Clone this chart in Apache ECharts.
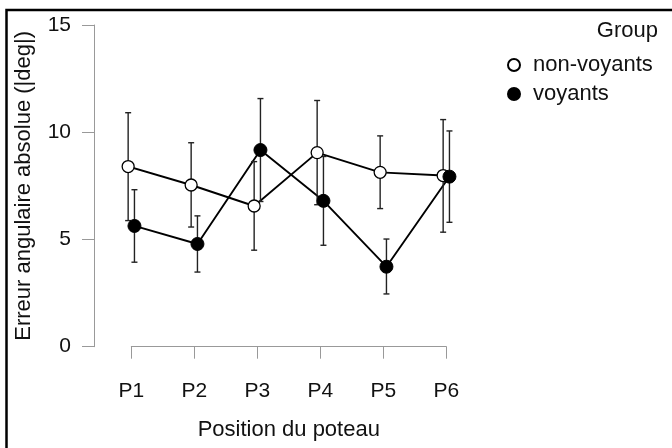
<!DOCTYPE html>
<html>
<head>
<meta charset="utf-8">
<script src="https://cdn.jsdelivr.net/npm/echarts@6/dist/echarts.min.js"></script>
<style>
html,body{margin:0;padding:0;background:#fff;}
#chart{width:672px;height:448px;}
</style>
</head>
<body>
<div id="chart"></div>
<script>
// ---- data ----
const categories = ['P1', 'P2', 'P3', 'P4', 'P5', 'P6'];
const groupTitle = 'Group';
const seriesNames = ['non-voyants', 'voyants'];
const nvMean = [8.40, 7.54, 6.56, 9.05, 8.13, 7.98];
const nvLow  = [5.88, 5.58, 4.50, 6.62, 6.44, 5.34];
const nvHigh = [10.91, 9.51, 8.63, 11.48, 9.83, 10.59];
const vMean  = [5.63, 4.79, 9.17, 6.80, 3.73, 7.93];
const vLow   = [3.94, 3.48, 6.77, 4.73, 2.46, 5.80];
const vHigh  = [7.32, 6.10, 11.57, 8.87, 5.02, 10.06];
const yTicks = [0, 5, 10, 15];
const xTitle = 'Position du poteau';
const yTitle = 'Erreur angulaire absolue (|deg|)';

// ---- build ----
const FONT = "'Liberation Sans', Arial, sans-serif";
const DODGE = 0.05;
const pts = (mean, off) => mean.map((m, i) => [i + 1 + off, m]);
const bars = (lo, hi, off) => lo.map((l, i) => [i + 1 + off, l, hi[i]]);

function errRender(params, api) {
  const x = api.value(0);
  const pLo = api.coord([x, api.value(1)]);
  const pHi = api.coord([x, api.value(2)]);
  const c = 3;
  const st = { stroke: '#222', lineWidth: 1.4 };
  return {
    type: 'group',
    children: [
      { type: 'line', shape: { x1: pLo[0], y1: pLo[1], x2: pHi[0], y2: pHi[1] }, style: st },
      { type: 'line', shape: { x1: pLo[0] - c, y1: pLo[1], x2: pLo[0] + c, y2: pLo[1] }, style: st },
      { type: 'line', shape: { x1: pHi[0] - c, y1: pHi[1], x2: pHi[0] + c, y2: pHi[1] }, style: st }
    ]
  };
}

const chart = echarts.init(document.getElementById('chart'));
chart.setOption({
  animation: false,
  backgroundColor: '#fff',
  textStyle: { fontFamily: FONT },
  title: {
    text: groupTitle, right: 9, top: 15,
    textStyle: { fontFamily: FONT, fontSize: 22, fontWeight: 'normal', color: '#111' }
  },
  legend: {
    data: seriesNames.map(n => ({ name: n, icon: 'circle' })),
    orient: 'vertical', left: 502, top: 49,
    itemWidth: 12, itemHeight: 12, itemGap: 7,
    textStyle: { fontFamily: FONT, fontSize: 22, color: '#111', lineHeight: 22, padding: [0, 0, 0, 8] }
  },
  grid: { left: 131.3, right: 225.7, top: 25, bottom: 101.3 },
  xAxis: {
    type: 'value', min: 1, max: categories.length, interval: 1,
    position: 'bottom', offset: 15.6,
    name: xTitle, nameLocation: 'middle', nameGap: 57,
    nameTextStyle: { fontFamily: FONT, fontSize: 22, color: '#111' },
    axisLine: { show: true, lineStyle: { color: '#999', width: 1 } },
    axisTick: { show: true, length: 12, lineStyle: { color: '#999', width: 1 } },
    axisLabel: { margin: 18, fontSize: 21, color: '#111', formatter: v => categories[Math.round(v) - 1] || '' },
    splitLine: { show: false }
  },
  yAxis: {
    type: 'value', min: yTicks[0], max: yTicks[yTicks.length - 1], interval: yTicks[1] - yTicks[0],
    position: 'left', offset: 37.3,
    name: yTitle, nameLocation: 'middle', nameGap: 59,
    nameTextStyle: { fontFamily: FONT, fontSize: 22, color: '#111' },
    axisLine: { show: true, lineStyle: { color: '#999', width: 1 } },
    axisTick: { show: true, length: 12, lineStyle: { color: '#999', width: 1 } },
    axisLabel: { margin: 23, fontSize: 21, color: '#111' },
    splitLine: { show: false }
  },
  series: [
    { name: 'nv-line', type: 'line', data: pts(nvMean, -DODGE), showSymbol: false, clip: false, z: 2,
      lineStyle: { color: '#000', width: 1.9 }, silent: true },
    { name: 'v-line', type: 'line', data: pts(vMean, DODGE), showSymbol: false, clip: false, z: 2,
      lineStyle: { color: '#000', width: 1.9 }, silent: true },
    { name: 'nv-err', type: 'custom', data: bars(nvLow, nvHigh, -DODGE), renderItem: errRender, z: 3, clip: false },
    { name: 'v-err', type: 'custom', data: bars(vLow, vHigh, DODGE), renderItem: errRender, z: 3, clip: false },
    { name: seriesNames[0], type: 'scatter', data: pts(nvMean, -DODGE), symbol: 'circle', symbolSize: 12, clip: false, z: 4,
      itemStyle: { color: '#fff', borderColor: '#000', borderWidth: 1.3, opacity: 1 } },
    { name: seriesNames[1], type: 'scatter', data: pts(vMean, DODGE), symbol: 'circle', symbolSize: 13, clip: false, z: 5,
      itemStyle: { color: '#000', borderColor: '#000', borderWidth: 1, opacity: 1 } }
  ],
  graphic: [
    { type: 'rect', shape: { x: 6.5, y: 10, width: 720, height: 500 },
      style: { fill: 'none', stroke: '#000', lineWidth: 2.5 }, z: 100, silent: true }
  ]
});
</script>
</body>
</html>
